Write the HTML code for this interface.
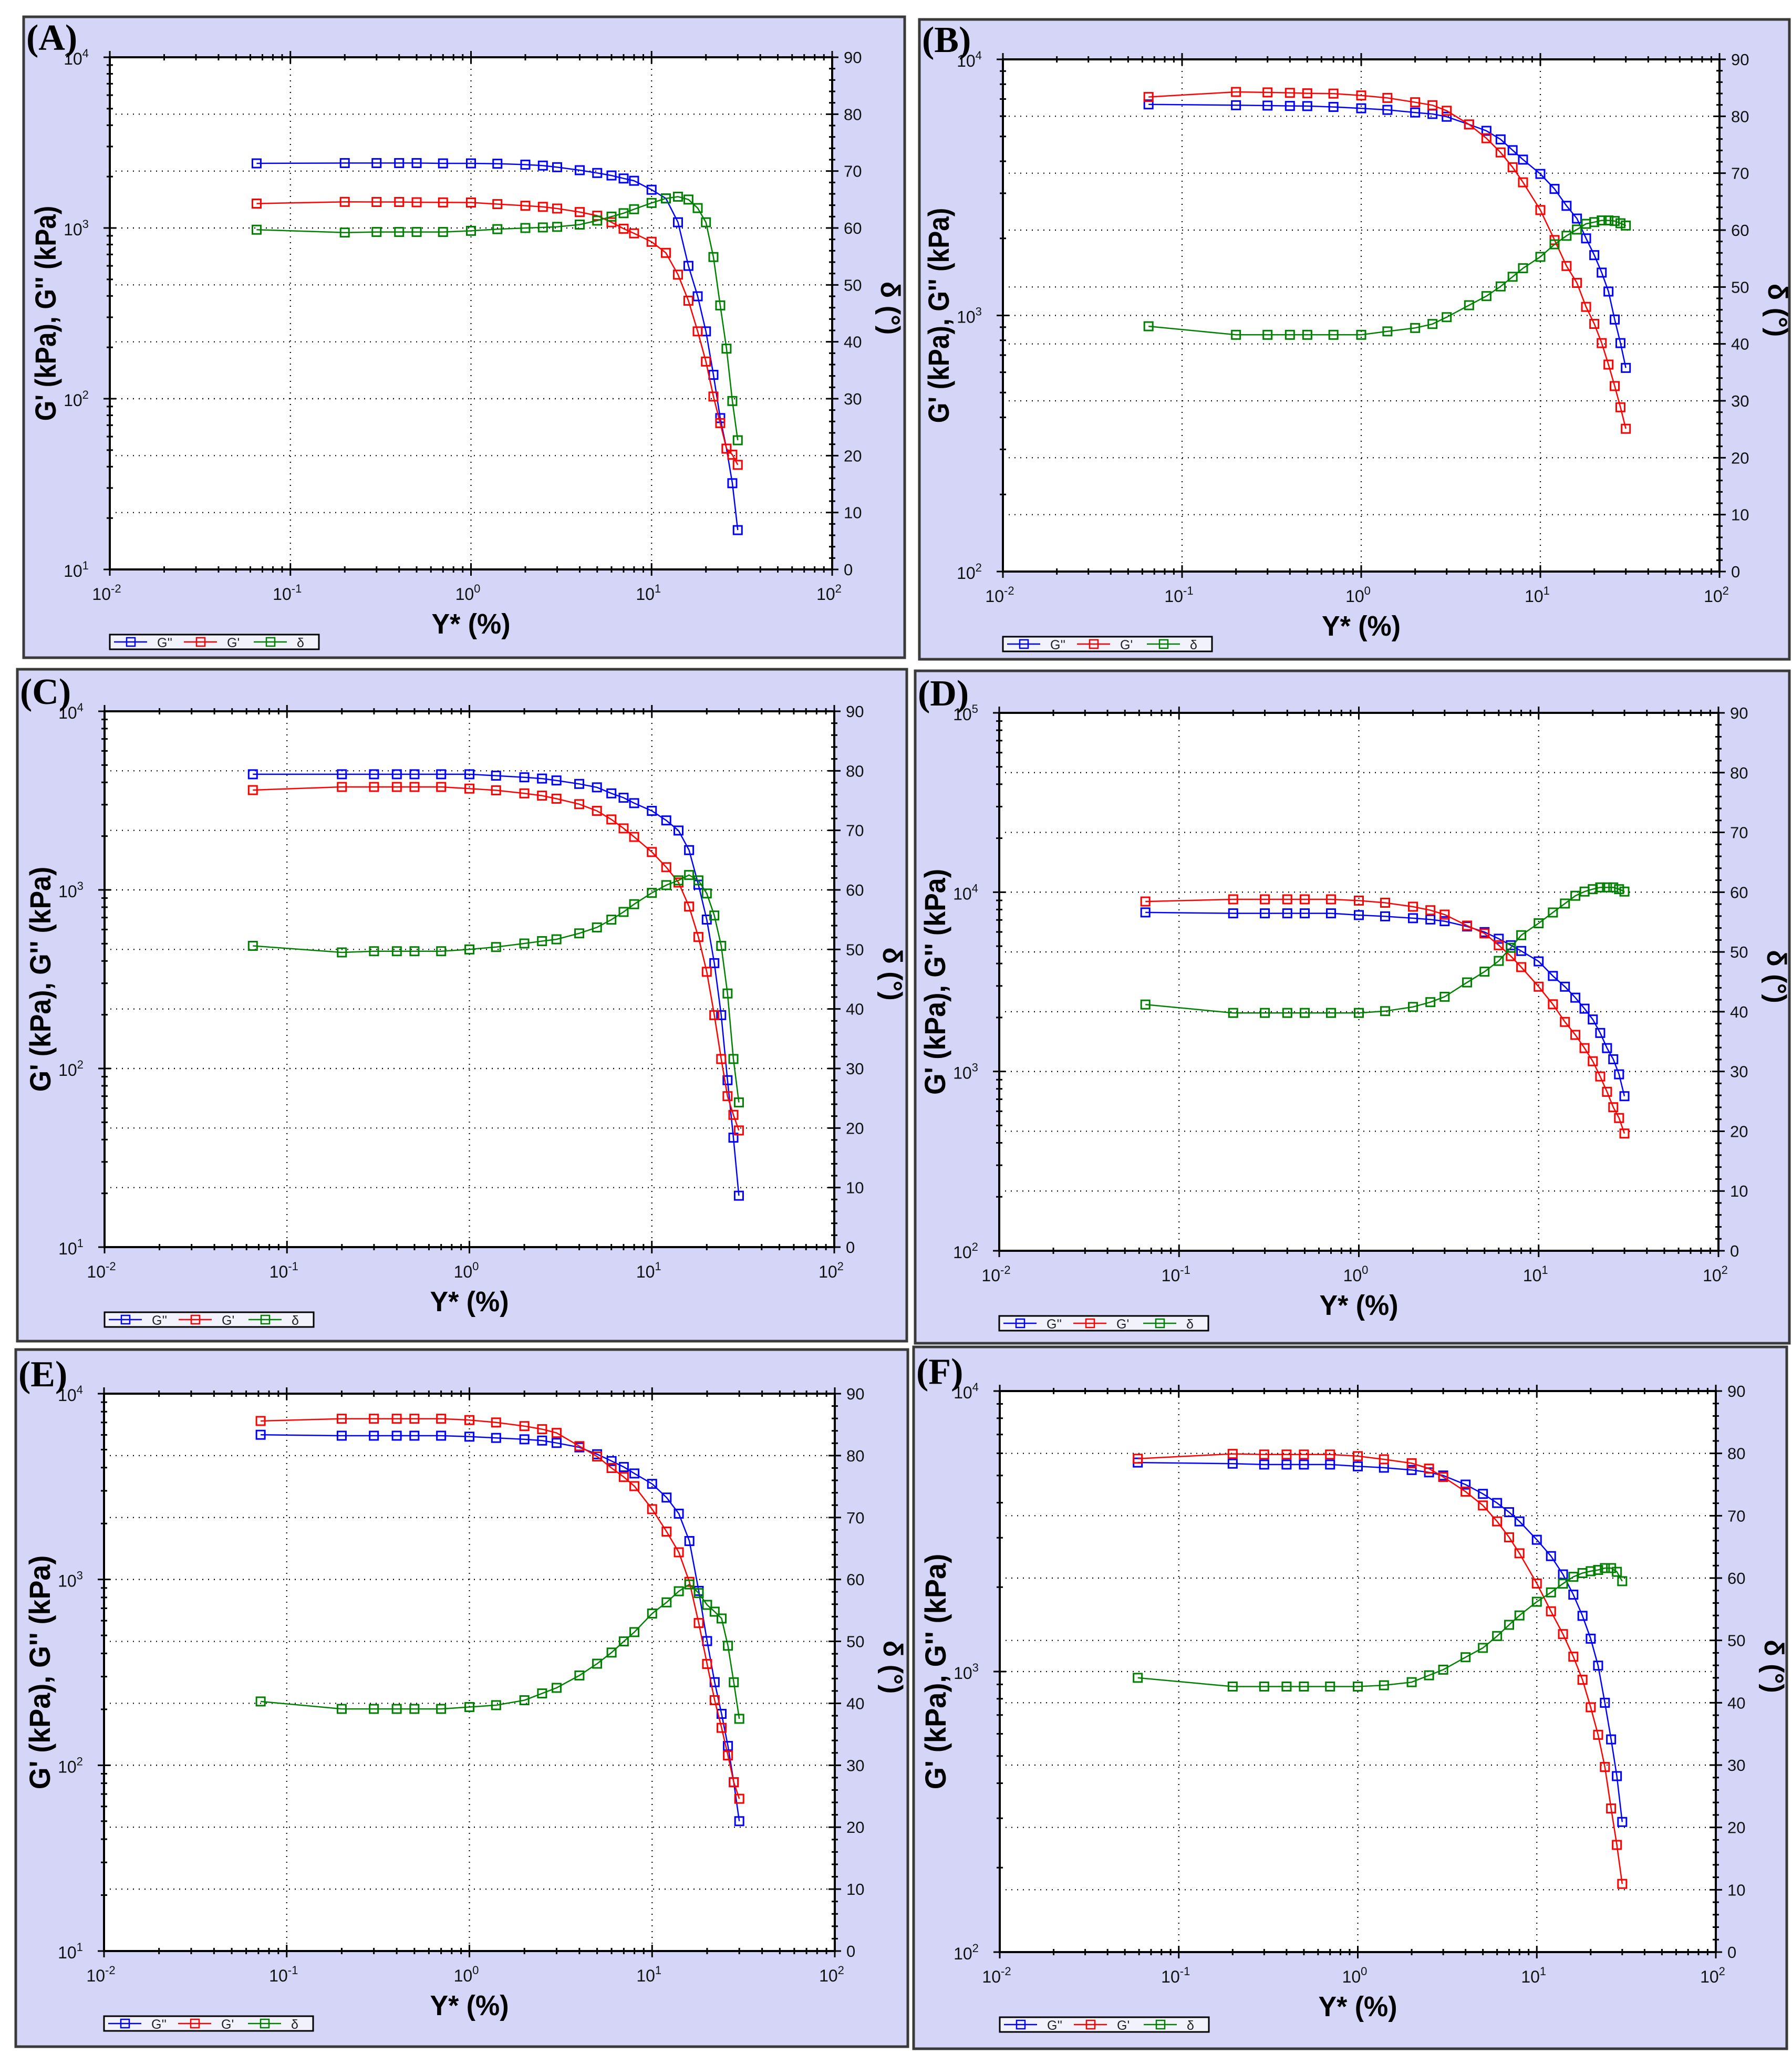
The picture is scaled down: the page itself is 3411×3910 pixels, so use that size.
<!DOCTYPE html>
<html><head><meta charset="utf-8"><title>Amplitude sweep panels</title>
<style>
html,body{margin:0;padding:0;background:#fff;}
svg{display:block;font-family:"Liberation Sans",Arial,sans-serif;}
</style></head>
<body>
<svg id="fig" width="3411" height="3910" viewBox="0 0 3411 3910" xmlns="http://www.w3.org/2000/svg"></svg>
<script>
// ---------- data (strain %, G'' kPa, G' kPa, delta deg) ----------
const strainA = [0.065,0.2,0.3,0.4,0.5,0.7,1,1.4,2,2.5,3,4,5,6,7,8,10,12,14,16,18,20,22,24,26,28,30];
const gppA = [2390,2400,2400,2400,2400,2390,2390,2380,2350,2320,2270,2180,2100,2030,1950,1890,1675,1490,1080,600,398,248,138,77,51,32,17];
const gpA  = [1390,1422,1420,1420,1415,1412,1410,1380,1350,1330,1300,1240,1180,1080,990,930,830,715,533,375,248,165,103,72,51,47,41];
const deltaA = [59.7,59.2,59.3,59.3,59.3,59.3,59.5,59.8,60.0,60.1,60.2,60.6,61.3,62.0,62.6,63.3,64.4,65.2,65.5,65.0,63.5,61.0,54.9,46.4,38.8,29.6,22.7];

const strainB = [0.065,0.2,0.3,0.4,0.5,0.7,1,1.4,2,2.5,3,4,5,6,7,8,10,12,14,16,18,20,22,24,26,28,30];
const gppB = [6670,6620,6600,6580,6570,6520,6440,6350,6200,6120,5970,5570,5260,4870,4420,4060,3570,3120,2680,2390,2000,1720,1470,1240,964,780,624];
const gpB  = [7130,7460,7430,7400,7370,7350,7230,7070,6800,6620,6300,5570,4920,4330,3790,3310,2580,1970,1560,1340,1080,927,780,643,530,438,361];
const deltaB = [43.1,41.6,41.6,41.6,41.6,41.6,41.6,42.2,42.8,43.5,44.7,46.8,48.4,50.1,51.8,53.3,55.3,57.5,59.0,60.1,61.1,61.4,61.7,61.7,61.6,61.2,60.8];

const strainC = [0.065,0.2,0.3,0.4,0.5,0.7,1,1.4,2,2.5,3,4,5,6,7,8,10,12,14,16,18,20,22,24,26,28,30];
const gppC = [4440,4440,4440,4440,4440,4440,4440,4360,4270,4200,4100,3920,3750,3470,3280,3060,2770,2450,2150,1670,1070,682,389,199,86,41,19.4];
const gpC  = [3620,3770,3770,3770,3770,3770,3690,3610,3470,3370,3240,3020,2770,2480,2210,1980,1630,1340,1100,807,545,348,199,113,70,55,45];
const deltaC = [50.6,49.5,49.7,49.7,49.7,49.7,50.0,50.4,51.0,51.4,51.7,52.7,53.7,55.0,56.3,57.6,59.5,60.8,61.6,62.5,61.6,59.4,55.7,50.6,42.6,31.6,24.3];

const strainD = [0.065,0.2,0.3,0.4,0.5,0.7,1,1.4,2,2.5,3,4,5,6,7,8,10,12,14,16,18,20,22,24,26,28,30];
const gppD = [7710,7620,7620,7620,7620,7620,7450,7330,7160,7040,6890,6440,5990,5500,5060,4700,4110,3410,2970,2580,2240,1950,1640,1350,1170,964,728];
const gpD  = [8870,9120,9120,9120,9120,9120,8970,8730,8300,7930,7500,6510,5890,5060,4400,3820,2970,2370,1890,1600,1350,1140,938,770,632,550,451];
const deltaD = [41.2,39.8,39.8,39.8,39.8,39.8,39.8,40.1,40.8,41.6,42.5,44.9,46.7,48.5,50.7,52.8,54.8,56.6,58.1,59.4,60.1,60.5,60.8,60.8,60.8,60.5,60.1];

const strainE = [0.072,0.2,0.3,0.4,0.5,0.7,1,1.4,2,2.5,3,4,5,6,7,8,10,12,14,16,18,20,22,24,26,28,30];
const gppE = [6010,5940,5940,5940,5940,5940,5870,5780,5680,5590,5430,5140,4720,4340,4030,3720,3270,2760,2260,1610,868,466,280,189,127,81,50];
const gpE  = [7130,7330,7330,7330,7330,7330,7210,7000,6690,6440,6150,5220,4590,3980,3560,3180,2390,1810,1400,971,583,351,224,159,113,81,66];
const deltaE = [40.3,39.1,39.1,39.1,39.1,39.1,39.4,39.7,40.5,41.6,42.5,44.5,46.4,48.2,50.0,51.5,54.5,56.3,58.1,59.2,57.8,55.9,54.8,53.7,49.3,43.4,37.5];

const strainF = [0.059,0.2,0.3,0.4,0.5,0.7,1,1.4,2,2.5,3,4,5,6,7,8,10,12,14,16,18,20,22,24,26,28,30];
const gppF = [5560,5510,5470,5470,5470,5470,5390,5330,5230,5130,5000,4640,4300,3990,3700,3430,2950,2580,2220,1880,1580,1310,1050,774,573,424,291];
const gpF  = [5740,5970,5940,5940,5940,5940,5860,5710,5530,5290,4940,4380,3910,3430,3010,2640,2060,1640,1360,1130,935,746,595,457,325,241,175];
const deltaF = [44.0,42.6,42.6,42.6,42.6,42.6,42.6,42.8,43.3,44.4,45.3,47.3,48.8,50.7,52.5,54.0,56.2,57.7,59.1,60.2,60.8,61.1,61.3,61.6,61.6,61.0,59.5];

const xTickExps = [-2,-1,0,1,2];
const degTicks = [0,10,20,30,40,50,60,70,80,90];
const legendLabels = ["G''","G'","\u03b4"];

// ---------- drawing ----------
const NS = "http://www.w3.org/2000/svg";
const svg = document.getElementById("fig");
function mk(tag, attrs, parent){
  const e = document.createElementNS(NS, tag);
  for (const k in attrs) e.setAttribute(k, attrs[k]);
  (parent||svg).appendChild(e);
  return e;
}

function drawPanel(p){
  const g = mk("g", {});
  
  
  const box = mk("rect", {x:p.box[0], y:p.box[1], width:p.box[2]-p.box[0], height:p.box[3]-p.box[1], fill:"#d5d5f7", stroke:"#3a3a3a", "stroke-width":5}, g);
  
  
  const L=p.plot[0], T=p.plot[1], R=p.plot[2], B=p.plot[3], W=R-L, H=B-T;
  const xs = v => L + (Math.log10(v)+2)/4*W;
  const ys = v => B - (Math.log10(v)-p.yMin)/(p.yMax-p.yMin)*H;
  const ds = v => B - v/90*H;

  const area = mk("rect", {x:L, y:T, width:W, height:H, fill:"#fff"}, g);
  
  

  // grid
  const grid = mk("g", {stroke:"#000", "stroke-width":2.2, "stroke-dasharray":"2 9"}, g);
  
  
  for (let e=-1; e<=1; e++) mk("line", {x1:xs(Math.pow(10,e)), x2:xs(Math.pow(10,e)), y1:T, y2:B}, grid);
  for (let e=p.yMin+1; e<p.yMax; e++) mk("line", {x1:L, x2:R, y1:ys(Math.pow(10,e)), y2:ys(Math.pow(10,e))}, grid);
  for (const d of degTicks) if (d>0 && d<90) mk("line", {x1:L, x2:R, y1:ds(d), y2:ds(d)}, grid);

  // axes frame
  const frame = mk("rect", {x:L, y:T, width:W, height:H, fill:"none", stroke:"#000", "stroke-width":4}, g);
  
  

  const ticks = mk("g", {stroke:"#000", "stroke-width":3}, g);
  
  
  // x ticks (bottom & top)
  for (let e=-2; e<=2; e++){
    for (let m=1; m<=9; m++){
      if (e===2 && m>1) break;
      const x = xs(m*Math.pow(10,e)); const len = m===1?12:6;
      mk("line", {x1:x, x2:x, y1:B-len, y2:B+len}, ticks);
      mk("line", {x1:x, x2:x, y1:T-len, y2:T+len}, ticks);
    }
  }
  // left log ticks
  for (let e=p.yMin; e<=p.yMax; e++){
    for (let m=1; m<=9; m++){
      if (e===p.yMax && m>1) break;
      const y = ys(m*Math.pow(10,e)); const len = m===1?12:6;
      mk("line", {x1:L-len, x2:L+len, y1:y, y2:y}, ticks);
    }
  }
  // right deg ticks
  for (let d=0; d<=90; d+=2){
    const y = ds(d); const len = d%10===0?12:6;
    mk("line", {x1:R-len, x2:R+len, y1:y, y2:y}, ticks);
  }

  // tick labels
  for (const e of xTickExps){
    const t = mk("text", {x:xs(Math.pow(10,e))-6, y:B+58, "font-size":32, "text-anchor":"middle", fill:"#111"}, g);
    
    
    t.textContent = "10";
    const s = mk("tspan", {dy:-14, "font-size":22}, t); s.textContent = String(e);
  }
  for (let e=p.yMin; e<=p.yMax; e++){
    const t = mk("text", {x:L-64, y:ys(Math.pow(10,e))+14, "font-size":32, "text-anchor":"middle", fill:"#111"}, g);
    
    
    t.textContent = "10";
    const s = mk("tspan", {dy:-14, "font-size":22}, t); s.textContent = String(e);
  }
  for (const d of degTicks){
    const t = mk("text", {x:R+22, y:ds(d)+11, "font-size":31, fill:"#111"}, g);
    
    
    t.textContent = String(d);
  }

  // titles
  const yt = mk("text", {x:0, y:0, "font-size":56, "font-weight":"bold", "text-anchor":"middle", transform:`translate(${L-103},${(T+B)/2}) rotate(-90)`, textLength:H*0.42, lengthAdjust:"spacingAndGlyphs"}, g);
  
  
  yt.textContent = "G' (kPa), G'' (kPa)";
  const rt = mk("text", {x:0, y:0, "font-size":52, "font-weight":"bold", "text-anchor":"middle", transform:`translate(${R+93},${(T+B)/2-10}) rotate(90)`}, g);
  
  
  rt.textContent = "\u03b4 (\u00b0)";
  const xt = mk("text", {x:(L+R)/2, y:B+122, "font-size":54, "font-weight":"bold", "text-anchor":"middle", textLength:150, lengthAdjust:"spacingAndGlyphs"}, g);
  
  
  xt.textContent = "Y* (%)";
  const pl = mk("text", {x:p.box[0]+5, y:T-14, "font-size":70, "font-weight":"bold", "font-family":"Liberation Serif, serif"}, g);
  
  
  pl.textContent = "(" + p.id + ")";

  // series
  const series = [
    {vals:p.gpp, col:"#0000ff", map:ys, name:"series-g-double-prime"},
    {vals:p.gp, col:"#ff0000", map:ys, name:"series-g-prime"},
    {vals:p.delta, col:"#008000", map:ds, name:"series-delta"}
  ];
  for (const s of series){
    const sg = mk("g", {}, g);
    
    
    const pts = p.x.map((xv,i)=> xs(xv).toFixed(1)+","+s.map(s.vals[i]).toFixed(1)).join(" ");
    mk("polyline", {points:pts, fill:"none", stroke:s.col, "stroke-width":2.5}, sg);
    p.x.forEach((xv,i)=>{
      const m = mk("rect", {x:xs(xv)-8, y:s.map(s.vals[i])-8, width:16, height:16, fill:"none", stroke:s.col, "stroke-width":3}, sg);
      
      
    });
  }

  // legend
  const lg = mk("g", {}, g);
  
  
  const ly = B+124;
  mk("rect", {x:L, y:ly, width:398, height:28, fill:"#f2f2fc", stroke:"#000", "stroke-width":3}, lg);
  const cols = ["#0000ff","#ff0000","#008000"];
  legendLabels.forEach((lab,i)=>{
    const ox = L + 8 + i*133;
    const le = mk("g", {}, lg);
    
    
    mk("line", {x1:ox, x2:ox+63, y1:ly+14, y2:ly+14, stroke:cols[i], "stroke-width":2.5}, le);
    mk("rect", {x:ox+24, y:ly+6, width:16, height:16, fill:"none", stroke:cols[i], "stroke-width":2.5}, le);
    const t = mk("text", {x:ox+82, y:ly+24, "font-size":25, fill:"#222"}, le);
    t.textContent = lab;
  });
}

drawPanel({id:"A", box:[45,32,1722,1252], plot:[209,109,1584,1084], yMin:1, yMax:4, x:strainA, gpp:gppA, gp:gpA, delta:deltaA});
drawPanel({id:"B", box:[1750,37,3406,1255], plot:[1909,113,3273,1088], yMin:2, yMax:4, x:strainB, gpp:gppB, gp:gpB, delta:deltaB});
drawPanel({id:"C", box:[33,1274,1726,2553], plot:[199,1354,1588,2374], yMin:1, yMax:4, x:strainC, gpp:gppC, gp:gpC, delta:deltaC});
drawPanel({id:"D", box:[1742,1277,3406,2557], plot:[1902,1357,3271,2381], yMin:2, yMax:5, x:strainD, gpp:gppD, gp:gpD, delta:deltaD});
drawPanel({id:"E", box:[30,2569,1728,3896], plot:[198,2653,1589,3714], yMin:1, yMax:4, x:strainE, gpp:gppE, gp:gpE, delta:deltaE});
drawPanel({id:"F", box:[1739,2564,3401,3900], plot:[1903,2648,3266,3716], yMin:2, yMax:4, x:strainF, gpp:gppF, gp:gpF, delta:deltaF});
</script>
</body></html>
